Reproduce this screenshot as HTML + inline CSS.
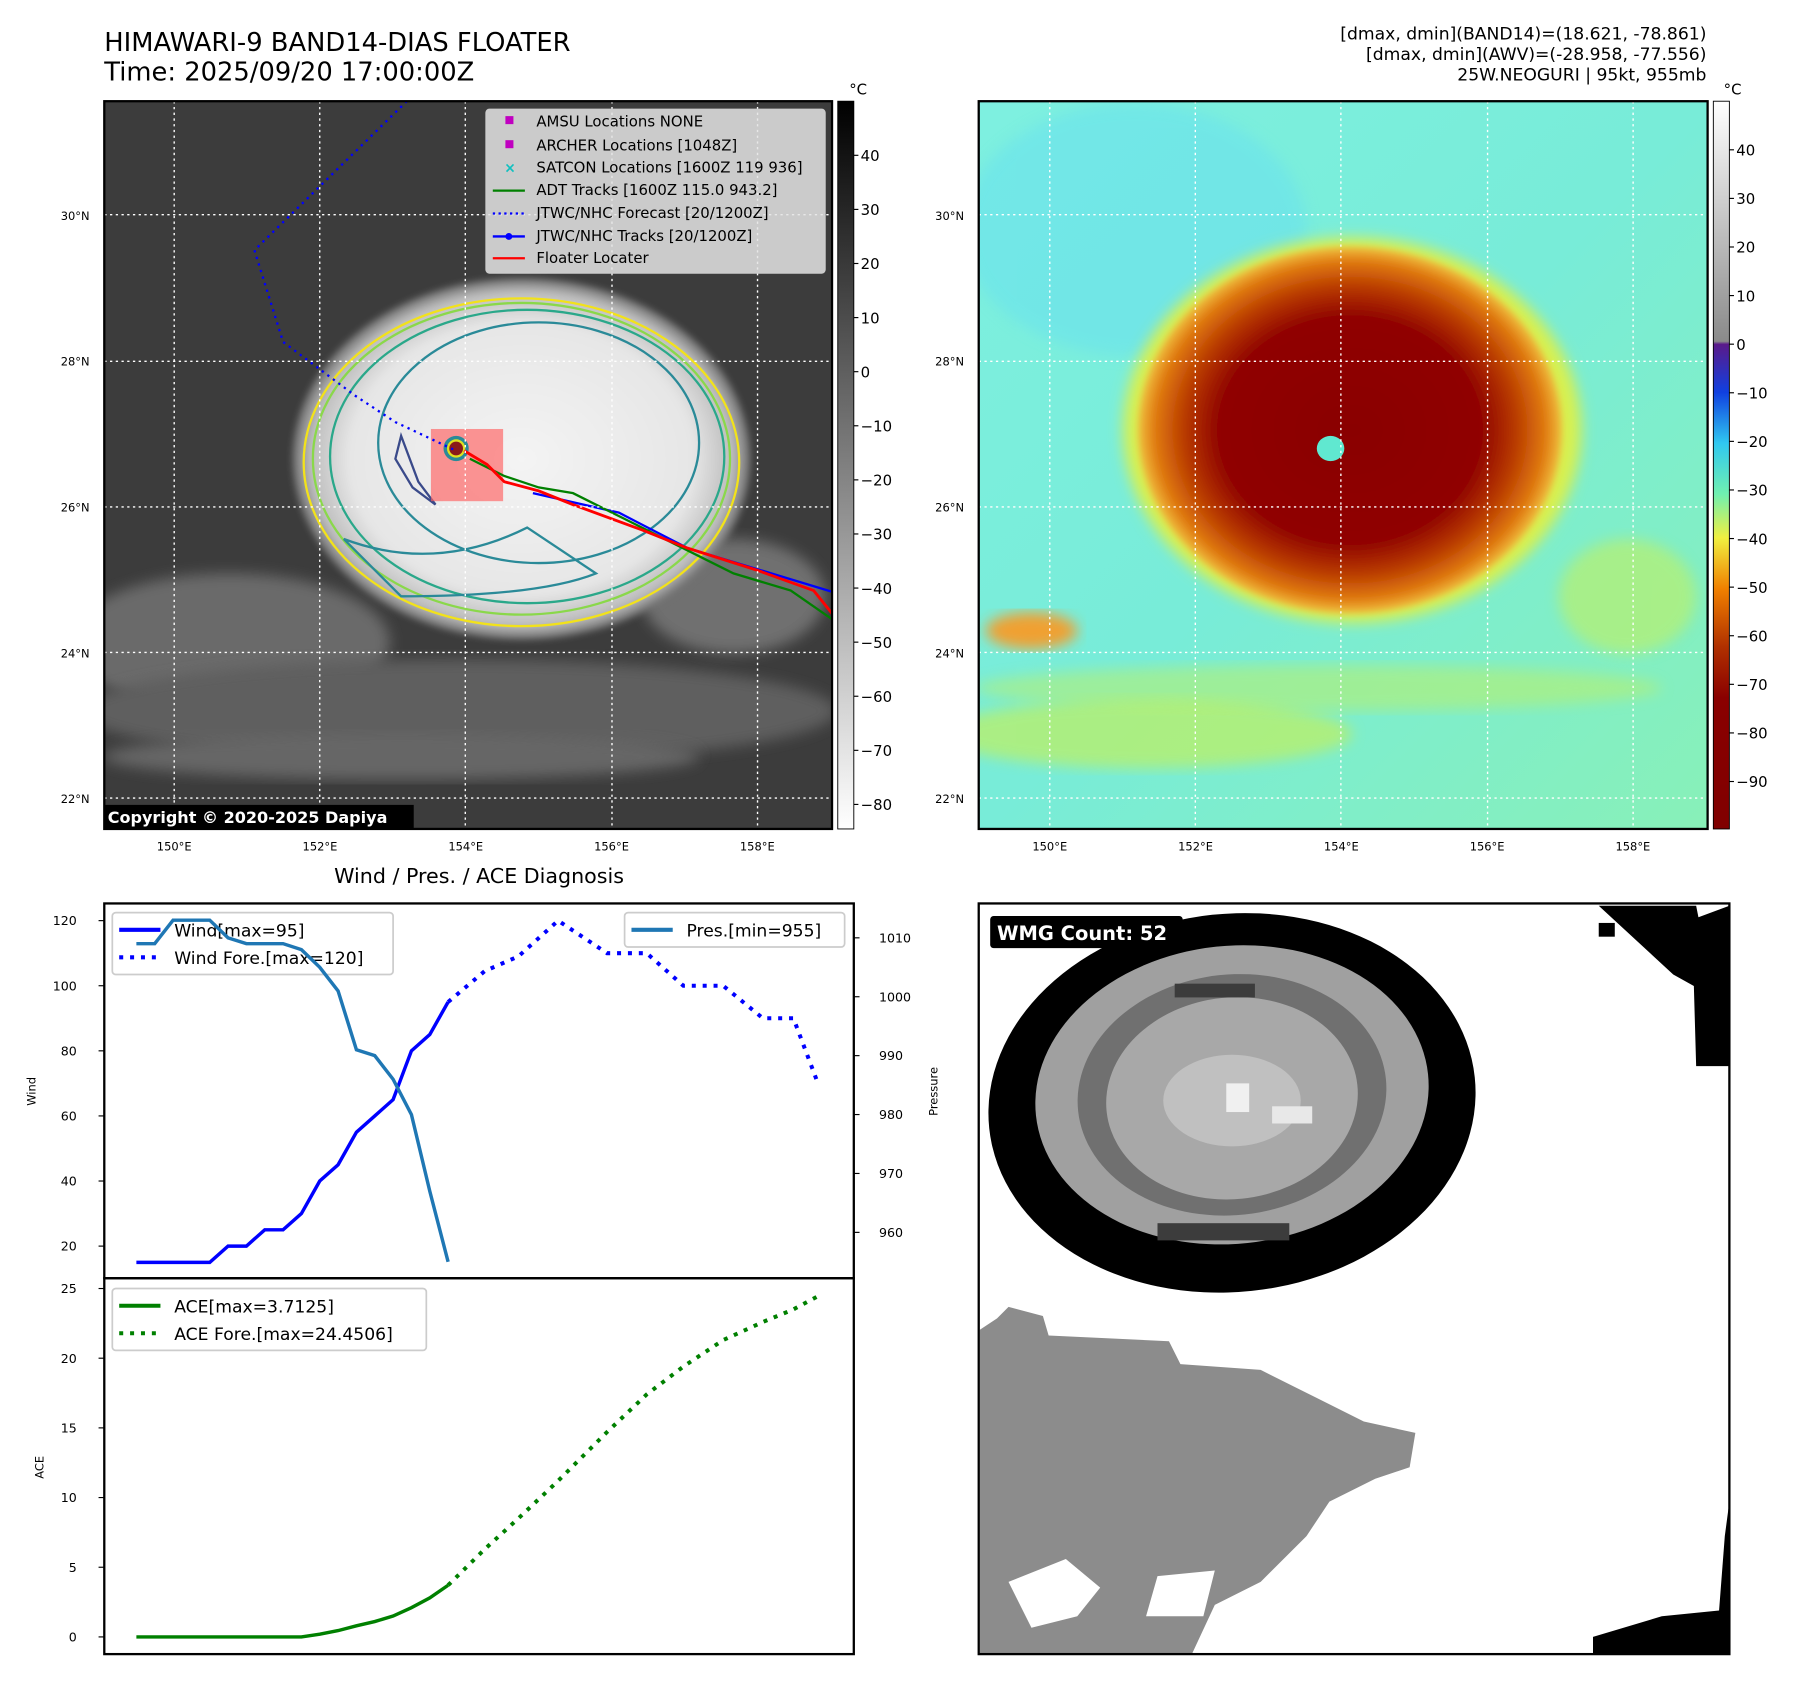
<!DOCTYPE html>
<html><head><meta charset="utf-8"><style>
html,body{margin:0;padding:0;background:#fff;}
svg{display:block;font-family:"DejaVu Sans","Liberation Sans",sans-serif;}
</style></head><body>
<svg id="fig" width="1797" height="1690" viewBox="0 0 1568 1474" xmlns="http://www.w3.org/2000/svg">
<defs>
<linearGradient id="cbGray" x1="0" y1="0" x2="0" y2="1"><stop offset="0" stop-color="#000"/><stop offset="1" stop-color="#fff"/></linearGradient>
<linearGradient id="cbJet" x1="0" y1="0" x2="0" y2="1">
<stop offset="0" stop-color="#ffffff"/><stop offset="0.33" stop-color="#8a8a8a"/><stop offset="0.334" stop-color="#5a1a8a"/>
<stop offset="0.40" stop-color="#1040e0"/><stop offset="0.47" stop-color="#30c8f0"/><stop offset="0.54" stop-color="#70f0b0"/>
<stop offset="0.60" stop-color="#f0f040"/><stop offset="0.67" stop-color="#f08000"/><stop offset="0.75" stop-color="#b03000"/>
<stop offset="0.82" stop-color="#8a0000"/><stop offset="1" stop-color="#800000"/></linearGradient>
<radialGradient id="cloudG" cx="0.5" cy="0.5" r="0.5"><stop offset="0" stop-color="#f4f4f4"/><stop offset="0.75" stop-color="#e6e6e6"/><stop offset="0.92" stop-color="#bdbdbd"/><stop offset="1" stop-color="#6a6a6a"/></radialGradient>
<radialGradient id="stormG" cx="0.5" cy="0.5" r="0.5"><stop offset="0" stop-color="#8a0000"/><stop offset="0.62" stop-color="#900400"/><stop offset="0.78" stop-color="#b83a00"/><stop offset="0.92" stop-color="#e07a10"/><stop offset="1" stop-color="#f0c040"/></radialGradient>
<linearGradient id="bgR" x1="0" y1="0" x2="1" y2="1"><stop offset="0" stop-color="#7ef0e0"/><stop offset="0.5" stop-color="#78ecd8"/><stop offset="1" stop-color="#88f0b8"/></linearGradient>
<filter id="blur6"><feGaussianBlur stdDeviation="6"/></filter>
<filter id="blur3"><feGaussianBlur stdDeviation="3"/></filter>
<clipPath id="clipL"><rect x="91" y="88" width="635" height="635"/></clipPath>
<clipPath id="clipR"><rect x="854" y="88" width="636" height="635"/></clipPath>
<clipPath id="clipW"><rect x="854" y="788" width="655" height="655"/></clipPath>
</defs>

<text x="91" y="44" font-size="22.5">HIMAWARI-9 BAND14-DIAS FLOATER</text>
<text x="91" y="70" font-size="22.5">Time: 2025/09/20 17:00:00Z</text>
<text x="1489" y="34" font-size="15" text-anchor="end">[dmax, dmin](BAND14)=(18.621, -78.861)</text>
<text x="1489" y="52" font-size="15" text-anchor="end">[dmax, dmin](AWV)=(-28.958, -77.556)</text>
<text x="1489" y="70" font-size="15" text-anchor="end">25W.NEOGURI | 95kt, 955mb</text>

<g clip-path="url(#clipL)">
<rect x="91" y="88" width="635" height="635" fill="#3c3c3c"/>
<ellipse cx="200" cy="560" rx="140" ry="60" fill="#6a6a6a" filter="url(#blur6)"/>
<ellipse cx="400" cy="620" rx="330" ry="45" fill="#5e5e5e" filter="url(#blur6)"/>
<ellipse cx="350" cy="660" rx="260" ry="20" fill="#666" filter="url(#blur6)"/>
<ellipse cx="640" cy="520" rx="80" ry="50" fill="#707070" filter="url(#blur6)"/>
<ellipse cx="455" cy="400" rx="200" ry="158" fill="url(#cloudG)" filter="url(#blur3)"/>
<ellipse cx="455" cy="403" rx="190" ry="143" fill="none" stroke="#f2e21a" stroke-width="2"/>
<ellipse cx="455" cy="400" rx="182" ry="136" fill="none" stroke="#8ad84a" stroke-width="2"/>
<ellipse cx="460" cy="398" rx="172" ry="128" fill="none" stroke="#2aa88a" stroke-width="2"/>
<ellipse cx="470" cy="386" rx="140" ry="105" fill="none" stroke="#2a8a98" stroke-width="2"/>
<path d="M300 470 Q380 500 460 460 L520 500 Q470 520 350 520 Z" fill="none" stroke="#2a8a98" stroke-width="2"/>
<path d="M350 380 L365 420 L380 440 L360 425 L345 400 Z" fill="none" stroke="#3a4a8a" stroke-width="2"/>
<rect x="376" y="374" width="63" height="63" fill="#ff6060" opacity="0.65"/>
<circle cx="398" cy="391" r="11" fill="#2a8a98"/><circle cx="398" cy="391" r="8" fill="#e0e020"/><circle cx="398" cy="391" r="6" fill="#8a1a1a"/>
<polyline points="355,88 222,218 247,298 310,345 345,368 398,393" fill="none" stroke="#0000ff" stroke-width="2" stroke-dasharray="2,4"/>
<polyline points="465,430 540,447 600,478 726,516" fill="none" stroke="#0000ff" stroke-width="2"/>
<polyline points="410,400 440,415 470,425 500,430 560,460 640,500 690,515 726,540" fill="none" stroke="#008000" stroke-width="2"/>
<polyline points="405,393 425,405 440,420 470,428 500,440 560,462 600,478 660,497 710,515 726,535" fill="none" stroke="#ff0000" stroke-width="2.5"/>
<g stroke="#fff" stroke-width="1.2" stroke-dasharray="2,3">
<line x1="152" y1="88" x2="152" y2="723"/><line x1="279" y1="88" x2="279" y2="723"/><line x1="406" y1="88" x2="406" y2="723"/><line x1="534" y1="88" x2="534" y2="723"/><line x1="661" y1="88" x2="661" y2="723"/>
<line x1="91" y1="187" x2="726" y2="187"/><line x1="91" y1="315" x2="726" y2="315"/><line x1="91" y1="442" x2="726" y2="442"/><line x1="91" y1="569" x2="726" y2="569"/><line x1="91" y1="696" x2="726" y2="696"/>
</g>
<rect x="424" y="95" width="296" height="143" rx="3" fill="#e4e4e4" fill-opacity="0.85" stroke="#ccc"/>
<rect x="441" y="101" width="7" height="7" fill="#c000c0"/><text x="468" y="110" font-size="13">AMSU Locations NONE</text>
<rect x="441" y="122" width="7" height="7" fill="#c000c0"/><text x="468" y="131" font-size="13">ARCHER Locations [1048Z]</text>
<text x="440" y="150" font-size="12" fill="#10c0c0" font-weight="bold">×</text><text x="468" y="150" font-size="13">SATCON Locations [1600Z 119 936]</text>
<line x1="430" y1="166" x2="458" y2="166" stroke="#008000" stroke-width="2"/><text x="468" y="170" font-size="13">ADT Tracks [1600Z 115.0 943.2]</text>
<line x1="430" y1="186" x2="458" y2="186" stroke="#0000ff" stroke-width="2" stroke-dasharray="2,3"/><text x="468" y="190" font-size="13">JTWC/NHC Forecast [20/1200Z]</text>
<line x1="430" y1="206" x2="458" y2="206" stroke="#0000ff" stroke-width="2"/><circle cx="444" cy="206" r="3" fill="#0000ff"/><text x="468" y="210" font-size="13">JTWC/NHC Tracks [20/1200Z]</text>
<line x1="430" y1="225" x2="458" y2="225" stroke="#ff0000" stroke-width="2"/><text x="468" y="229" font-size="13">Floater Locater</text>
<rect x="89" y="702" width="272" height="21" fill="#000"/>
<text x="94" y="718" font-size="14" font-weight="bold" fill="#fff">Copyright © 2020-2025 Dapiya</text>
</g>
<rect x="91" y="88" width="635" height="635" fill="none" stroke="#000" stroke-width="2"/>
<rect x="731" y="88" width="14" height="635" fill="url(#cbGray)" stroke="#000" stroke-width="0.8"/>
<text x="741" y="82" font-size="13">°C</text>
<g id="cbL" font-size="13"></g>

<g clip-path="url(#clipR)">
<rect x="854" y="88" width="636" height="635" fill="url(#bgR)"/>
<ellipse cx="990" cy="200" rx="150" ry="110" fill="#68e0f0" filter="url(#blur6)" opacity="0.5"/>
<ellipse cx="1000" cy="640" rx="180" ry="30" fill="#c0f060" filter="url(#blur6)" opacity="0.7"/>
<ellipse cx="1150" cy="600" rx="300" ry="20" fill="#c0f060" filter="url(#blur6)" opacity="0.5"/>
<ellipse cx="900" cy="550" rx="40" ry="16" fill="#f0a030" filter="url(#blur6)"/>
<ellipse cx="1420" cy="520" rx="60" ry="50" fill="#b8f070" filter="url(#blur6)" opacity="0.7"/>
<ellipse cx="1180" cy="375" rx="200" ry="168" fill="#d8f050" filter="url(#blur6)"/>
<ellipse cx="1178" cy="375" rx="185" ry="160" fill="url(#stormG)" filter="url(#blur3)"/>
<ellipse cx="1161" cy="391" rx="12" ry="11" fill="#60e8d0"/>
<g stroke="#fff" stroke-width="1.2" stroke-dasharray="2,3">
<line x1="916" y1="88" x2="916" y2="723"/><line x1="1043" y1="88" x2="1043" y2="723"/><line x1="1170" y1="88" x2="1170" y2="723"/><line x1="1298" y1="88" x2="1298" y2="723"/><line x1="1425" y1="88" x2="1425" y2="723"/>
<line x1="854" y1="187" x2="1490" y2="187"/><line x1="854" y1="315" x2="1490" y2="315"/><line x1="854" y1="442" x2="1490" y2="442"/><line x1="854" y1="569" x2="1490" y2="569"/><line x1="854" y1="696" x2="1490" y2="696"/>
</g>
</g>
<rect x="854" y="88" width="636" height="635" fill="none" stroke="#000" stroke-width="2"/>
<rect x="1495" y="88" width="14" height="635" fill="url(#cbJet)" stroke="#000" stroke-width="0.8"/>
<text x="1504" y="82" font-size="13">°C</text>
<g id="cbR" font-size="13"></g>
<g id="mapTicks" font-size="10"></g>

<text x="418" y="770" font-size="18" text-anchor="middle">Wind / Pres. / ACE Diagnosis</text>
<g id="chart"></g>

<g clip-path="url(#clipW)">
<rect x="854" y="788" width="655" height="655" fill="#fff"/>
<path d="M1395 790 L1480 790 L1482 800 L1509 790 L1509 930 L1480 930 L1478 860 L1460 850 Z" fill="#000"/>
<rect x="1395" y="805" width="14" height="12" fill="#000"/>
<path d="M1390 1428 L1450 1410 L1500 1405 L1505 1340 L1509 1310 L1509 1443 L1390 1443 Z" fill="#000"/>
<path d="M855 1160 L870 1150 L880 1140 L910 1148 L915 1165 L1020 1170 L1030 1190 L1100 1195 L1130 1210 L1190 1240 L1235 1250 L1230 1280 L1200 1290 L1160 1310 L1140 1340 L1100 1380 L1060 1400 L1040 1443 L855 1443 Z" fill="#8c8c8c"/>
<path d="M880 1380 L930 1360 L960 1385 L940 1410 L900 1420 Z M1010 1375 L1060 1370 L1050 1410 L1000 1410 Z" fill="#fff"/>
<ellipse cx="1075" cy="962" rx="213" ry="165" fill="#000" transform="rotate(-6 1075 962)"/>
<ellipse cx="1075" cy="955" rx="172" ry="130" fill="#a0a0a0" transform="rotate(-6 1075 955)"/>
<ellipse cx="1075" cy="955" rx="135" ry="105" fill="#707070" transform="rotate(-6 1075 955)"/>
<ellipse cx="1075" cy="958" rx="110" ry="88" fill="#a8a8a8" transform="rotate(-6 1075 958)"/>
<rect x="1010" y="1067" width="115" height="15" fill="#3c3c3c"/>
<rect x="1025" y="858" width="70" height="12" fill="#3c3c3c"/>
<ellipse cx="1075" cy="960" rx="60" ry="40" fill="#c0c0c0"/>
<rect x="1070" y="945" width="20" height="25" fill="#f0f0f0"/>
<rect x="1110" y="965" width="35" height="15" fill="#e8e8e8"/>
<rect x="864" y="799" width="168" height="28" rx="3" fill="#000"/>
<text x="870" y="820" font-size="17" font-weight="bold" fill="#fff">WMG Count: 52</text>
</g>
<rect x="854" y="788" width="655" height="655" fill="none" stroke="#000" stroke-width="2"/>

<script>
var obsHours = [0,6,12,18,24,30,36,42,48,54,60,66,72,78,84,90,96,102];
var windObs = [15,15,15,15,15,20,20,25,25,30,40,45,55,60,65,80,85,95];
var presObs = [1009,1009,1013,1013,1013,1010,1009,1009,1009,1008,1005,1001,991,990,986,980,967,955];
var aceObs = [0,0,0,0,0,0,0,0,0,0,0.2,0.45,0.8,1.1,1.5,2.1,2.8,3.71];
var foreHours = [102,114,125,138,154,167,179,192,205,215,223];
var windFore = [95,104.5,109,120,110,110,100,100,90,90,70];
var aceFore = [3.71,6.3,8.5,11.2,14.7,17.4,19.4,21.3,22.6,23.5,24.45];
var windTicks = [20,40,60,80,100,120];
var presTicks = [960,970,980,990,1000,1010];
var aceTicks = [0,5,10,15,20,25];
var cbLTicks = [40,30,20,10,0,-10,-20,-30,-40,-50,-60,-70,-80];
var cbRTicks = [40,30,20,10,0,-10,-20,-30,-40,-50,-60,-70,-80,-90];
var latTicks = [30,28,26,24,22];
var lonTicks = [150,152,154,156,158];

var NS='http://www.w3.org/2000/svg';
function mk(tag, attrs, parent, txt){var e=document.createElementNS(NS,tag);for(var k in attrs)e.setAttribute(k,attrs[k]);if(txt!==undefined)e.textContent=txt;parent.appendChild(e);return e;}
function xH(h){return 119 + h/0.375;}
function yW(v){return 803 + (120-v)*2.84;}
function yP(p){return 818 + (1010-p)*5.14;}
function yA(a){return 1428 - a*12.16;}
function cbLY(v){return 324 - v*4.72;}
function cbRY(v){return 300 - v*4.24;}
function latY(l){return 442 - (l-26)*63.6;}
function lonX(l){return 152 + (l-150)*63.6;}

var cbL=document.getElementById('cbL');
cbLTicks.forEach(function(v){
 mk('line',{x1:745,x2:749,y1:cbLY(v),y2:cbLY(v),stroke:'#000'},cbL);
 var t=mk('text',{x:751,y:cbLY(v)+5},cbL,v<0?'\u2212'+(-v):String(v));
 
 
});
var cbR=document.getElementById('cbR');
cbRTicks.forEach(function(v){
 mk('line',{x1:1509,x2:1513,y1:cbRY(v),y2:cbRY(v),stroke:'#000'},cbR);
 var t=mk('text',{x:1515,y:cbRY(v)+5},cbR,v<0?'\u2212'+(-v):String(v));
 
 
});
var mt=document.getElementById('mapTicks');
latTicks.forEach(function(l){
 [53,816].forEach(function(x){
  var t=mk('text',{x:x,y:latY(l)+4},mt,l+'°N');
  
  
 });
});
lonTicks.forEach(function(l){
 [0,764].forEach(function(dx){
  var t=mk('text',{x:lonX(l)+dx,y:742,'text-anchor':'middle'},mt,l+'°E');
  
  
 });
});

var g=document.getElementById('chart');
function pts(xs,ys,fy){return xs.map(function(h,i){return xH(h).toFixed(1)+','+fy(ys[i]).toFixed(1);}).join(' ');}
mk('rect',{x:91,y:788,width:654,height:327,fill:'none',stroke:'#000','stroke-width':2},g);
mk('rect',{x:91,y:1115,width:654,height:328,fill:'none',stroke:'#000','stroke-width':2},g);
windTicks.forEach(function(v){
 mk('line',{x1:86,x2:91,y1:yW(v),y2:yW(v),stroke:'#000'},g);
 var t=mk('text',{x:67,y:yW(v)+4,'font-size':11,'text-anchor':'end'},g,String(v));
 
 
});
presTicks.forEach(function(v){
 mk('line',{x1:745,x2:750,y1:yP(v),y2:yP(v),stroke:'#000'},g);
 var t=mk('text',{x:767,y:yP(v)+4,'font-size':11},g,String(v));
 
 
});
aceTicks.forEach(function(v){
 mk('line',{x1:86,x2:91,y1:yA(v),y2:yA(v),stroke:'#000'},g);
 var t=mk('text',{x:67,y:yA(v)+4,'font-size':11,'text-anchor':'end'},g,String(v));
 
 
});
var yl=mk('text',{x:31,y:952,'font-size':10,'text-anchor':'middle',transform:'rotate(-90 31 952)'},g,'Wind');


var pl=mk('text',{x:818,y:952,'font-size':10,'text-anchor':'middle',transform:'rotate(-90 818 952)'},g,'Pressure');


var al=mk('text',{x:38,y:1280,'font-size':10,'text-anchor':'middle',transform:'rotate(-90 38 1280)'},g,'ACE');



var s1=mk('polyline',{points:pts(obsHours,windObs,yW),fill:'none',stroke:'#0000ff','stroke-width':3},g);


var s2=mk('polyline',{points:pts(foreHours,windFore,yW),fill:'none',stroke:'#0000ff','stroke-width':3.5,'stroke-dasharray':'3.5,6'},g);


var s3=mk('polyline',{points:pts(obsHours,presObs,yP),fill:'none',stroke:'#1f77b4','stroke-width':3},g);


var s4=mk('polyline',{points:pts(obsHours,aceObs,yA),fill:'none',stroke:'#008000','stroke-width':3},g);


var s5=mk('polyline',{points:pts(foreHours,aceFore,yA),fill:'none',stroke:'#008000','stroke-width':3.5,'stroke-dasharray':'3.5,6'},g);



function legend(x,y,w,h,items,name){
 var lg=mk('g',{},g);
 
 
 mk('rect',{x:x,y:y,width:w,height:h,rx:3,fill:'#fff','fill-opacity':0.8,stroke:'#ccc','stroke-width':1.5},lg);
 items.forEach(function(it,i){
  var yy=y+15+i*24;
  var a={x1:x+6,x2:x+42,y1:yy,y2:yy,stroke:it[1],'stroke-width':3.5};
  if(it[2])a['stroke-dasharray']='3.5,6';
  mk('line',a,lg);
  mk('text',{x:x+54,y:yy+6,'font-size':15},lg,it[0]);
 });
}
legend(98,796,245,54,[['Wind[max=95]','#0000ff',false],['Wind Fore.[max=120]','#0000ff',true]],'wind-legend');
legend(545,796,192,30,[['Pres.[min=955]','#1f77b4',false]],'pressure-legend');
legend(98,1124,274,54,[['ACE[max=3.7125]','#008000',false],['ACE Fore.[max=24.4506]','#008000',true]],'ace-legend');
g.appendChild(s3);
</script>
</svg>
</body></html>
